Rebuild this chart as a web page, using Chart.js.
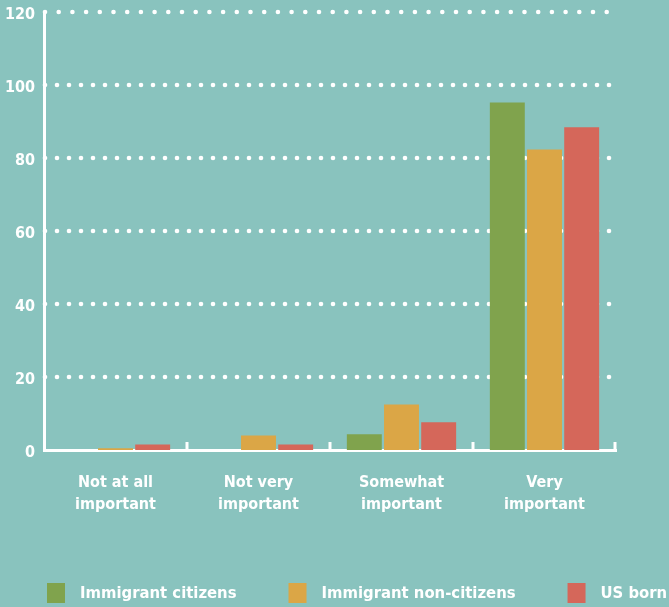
<!DOCTYPE html>
<html>
<head>
<meta charset="utf-8">
<script src="https://cdn.jsdelivr.net/npm/chart.js@4.4.1/dist/chart.umd.min.js"></script>
<style>
  html, body { margin: 0; padding: 0; background: #89c3be; }
  #wrap { width: 669px; height: 607px; }
</style>
</head>
<body>
<div id="wrap"><canvas id="importanceChart" width="669" height="607"></canvas></div>
<script>
// categories + values (percent)
const categories = [
  ['Not at all', 'important'],
  ['Not very', 'important'],
  ['Somewhat', 'important'],
  ['Very', 'important']
];
const immigrantCitizens = [0, 0, 4.3, 95.2];
const immigrantNonCitizens = [0.5, 4, 12.5, 82.3];
const usBorn = [1.5, 1.5, 7.6, 88.4];
const yTicks = [0, 20, 40, 60, 80, 100, 120];

const FONT = "'DejaVu Sans Condensed', 'Liberation Sans Narrow', sans-serif";
const BG = '#89c3be';

// background fill
const bgPlugin = {
  id: 'bg',
  beforeDraw(chart) {
    const ctx = chart.ctx;
    ctx.save();
    ctx.fillStyle = BG;
    ctx.fillRect(0, 0, chart.width, chart.height);
    ctx.restore();
  }
};

// white dotted gridlines behind the bars
const dotGrid = {
  id: 'dotGrid',
  beforeDatasetsDraw(chart) {
    const { ctx, chartArea, scales } = chart;
    ctx.save();
    ctx.fillStyle = '#ffffff';
    yTicks.forEach(v => {
      if (v === 0) return;
      const y = scales.y.getPixelForValue(v);
      const step = v === 120 ? 13.7 : 12;
      for (let x = chartArea.left + 1; x <= chartArea.right + 2; x += step) {
        ctx.beginPath();
        ctx.arc(x, y, 2.3, 0, Math.PI * 2);
        ctx.fill();
      }
    });
    ctx.restore();
  }
};

// small upward ticks between categories on the x axis
const catTicks = {
  id: 'catTicks',
  afterDraw(chart) {
    const { ctx, chartArea, scales } = chart;
    const xs = scales.x;
    ctx.save();
    ctx.strokeStyle = '#ffffff';
    ctx.lineWidth = 3;
    for (let i = 0; i < categories.length; i++) {
      let x;
      if (i < categories.length - 1) {
        x = (xs.getPixelForTick(i) + xs.getPixelForTick(i + 1)) / 2;
      } else {
        x = chartArea.right - 1;
      }
      ctx.beginPath();
      ctx.moveTo(x, chartArea.bottom);
      ctx.lineTo(x, chartArea.bottom - 8);
      ctx.stroke();
    }
    ctx.restore();
  }
};

// legend along the bottom
const bottomLegend = {
  id: 'bottomLegend',
  afterDraw(chart) {
    const ctx = chart.ctx;
    ctx.save();
    ctx.font = 'bold 16.5px ' + FONT;
    ctx.textBaseline = 'middle';
    ctx.textAlign = 'left';
    let x = 47;
    const yMid = 593;
    chart.data.datasets.forEach(ds => {
      ctx.fillStyle = ds.backgroundColor;
      ctx.fillRect(x, yMid - 10, 18, 20);
      ctx.fillStyle = '#ffffff';
      ctx.fillText(ds.label, x + 33, yMid + 1);
      x += 33 + ctx.measureText(ds.label).width + 52;
    });
    ctx.restore();
  }
};

new Chart(document.getElementById('importanceChart'), {
  type: 'bar',
  data: {
    labels: categories,
    datasets: [
      { label: 'Immigrant citizens', data: immigrantCitizens, backgroundColor: '#80a34d' },
      { label: 'Immigrant non-citizens', data: immigrantNonCitizens, backgroundColor: '#dba646' },
      { label: 'US born', data: usBorn, backgroundColor: '#d5675a' }
    ]
  },
  options: {
    responsive: false,
    animation: false,
    layout: { padding: { top: 12, right: 53, bottom: 0, left: 0 } },
    datasets: {
      bar: { categoryPercentage: 0.78, barPercentage: 0.94 }
    },
    plugins: {
      legend: { display: false },
      tooltip: { enabled: false }
    },
    scales: {
      x: {
        grid: { display: false, drawTicks: false },
        border: { display: true, color: '#ffffff', width: 3 },
        ticks: {
          color: '#ffffff',
          padding: 22,
          maxRotation: 0,
          autoSkip: false,
          font: { family: FONT, size: 16, weight: 'bold', lineHeight: 1.35 }
        },
        afterFit(s) { s.height = 157; s.paddingLeft = 0; s.paddingRight = 0; }
      },
      y: {
        min: 0,
        max: 120,
        grid: { display: false, drawTicks: false },
        border: { display: true, color: '#ffffff', width: 3 },
        ticks: {
          stepSize: 20,
          color: '#ffffff',
          padding: 9,
          labelOffset: 3,
          font: { family: FONT, size: 16, weight: 'bold' }
        },
        afterFit(s) { s.width = 44; s.paddingTop = 0; s.paddingBottom = 0; }
      }
    }
  },
  plugins: [bgPlugin, dotGrid, catTicks, bottomLegend]
});
</script>
</body>
</html>
